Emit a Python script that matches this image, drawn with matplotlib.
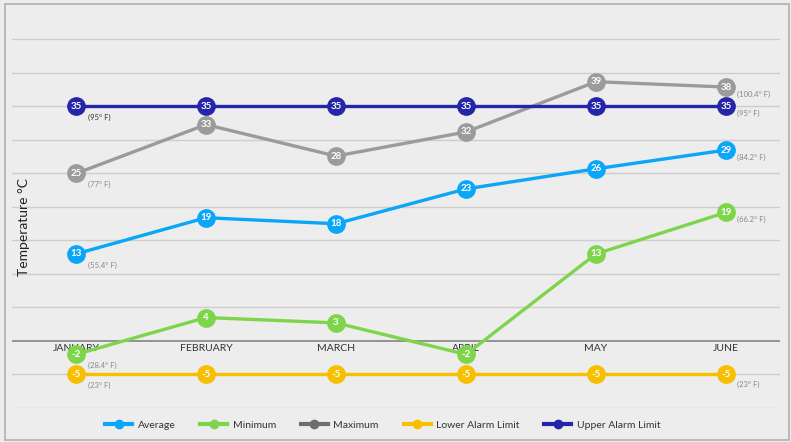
import numpy as np
import matplotlib.pyplot as plt
from matplotlib.lines import Line2D
from matplotlib.patches import Rectangle

plt.rcParams['font.family'] = ['Lato', 'DejaVu Sans']

# data (deg C)
months = ['JANUARY', 'FEBRUARY', 'MARCH', 'APRIL', 'MAY', 'JUNE']
# where the points sit on the chart
average = [13.0, 18.4, 17.5, 22.7, 25.7, 28.5]
minimum = [-2.0, 3.5, 2.7, -2.0, 13.0, 19.2]
maximum = [25.0, 32.3, 27.6, 31.2, 38.7, 37.9]
lower_alarm = [-5, -5, -5, -5, -5, -5]
upper_alarm = [35, 35, 35, 35, 35, 35]
# the numbers printed in the markers
average_lbl = [13, 19, 18, 23, 26, 29]
minimum_lbl = [-2, 4, 3, -2, 13, 19]
maximum_lbl = [25, 33, 28, 32, 39, 38]
lower_lbl = [-5, -5, -5, -5, -5, -5]
upper_lbl = [35, 35, 35, 35, 35, 35]

series = [
    ('Average', average, average_lbl, '#0aa6f7', '#0aa6f7'),
    ('Minimum', minimum, minimum_lbl, '#7ed54c', '#7ed54c'),
    ('Maximum', maximum, maximum_lbl, '#9b9b9b', '#6e6e6e'),
    ('Lower Alarm Limit', lower_alarm, lower_lbl, '#f6bf00', '#f6bf00'),
    ('Upper Alarm Limit', upper_alarm, upper_lbl, '#2525aa', '#2525aa'),
]

fig = plt.figure(figsize=(7.91, 4.42), dpi=100)
fig.patch.set_facecolor('#ededed')
fig.patches.append(Rectangle((0.006, 0.004), 0.991, 0.988, transform=fig.transFigure,
                             fill=False, edgecolor='#b0b0b0', linewidth=1.2))

ax = fig.add_axes([12 / 791, 34 / 442, 768 / 791, 400 / 442])
ax.set_facecolor('#ededed')
x = np.arange(len(months))
ax.set_xlim(-0.492, 5.415)
ax.set_ylim(-10, 49.7)

# grid
for g in range(-10, 50, 5):
    if g == 0:
        ax.axhline(0, color='#8c8c8c', lw=1.3, zorder=1)
    else:
        ax.axhline(g, color='#cdcdcd', lw=1.0, zorder=1)
for s in ax.spines.values():
    s.set_visible(False)
ax.set_xticks([])
ax.set_yticks([])

# month labels sit on the zero line
for xi, m in zip(x, months):
    ax.annotate(m, (xi, 0), xytext=(0, -2), textcoords='offset points',
                ha='center', va='top', fontsize=7.5, color='#333333')

ax.text(-0.40, 17, 'Temperature °C', rotation=90, ha='center', va='center',
        fontsize=10, color='#222222')

# lines, markers and values
for z, (name, vals, lbls, col, lcol) in enumerate(series):
    ax.plot(x, vals, color=col, lw=2.4, marker='o', markersize=13.5,
            markeredgewidth=0, zorder=3 + z)
    for xi, v, t in zip(x, vals, lbls):
        ax.text(xi, v, str(t), ha='center', va='center', fontsize=7,
                fontweight='bold', color='white', zorder=3.5 + z)


def fahr(c):
    return '(%g° F)' % round(c * 9 / 5 + 32, 1)


# fahrenheit notes at January and June
for name, vals, lbls, col, lcol in series:
    first_col = '#333333' if name == 'Upper Alarm Limit' else '#888888'
    ax.annotate(fahr(lbls[0]), (x[0], vals[0]), xytext=(9, -8),
                textcoords='offset points', ha='left', va='center',
                fontsize=5.5, color=first_col, zorder=10)
    dy = -7 if name == 'Lower Alarm Limit' else -5
    ax.annotate(fahr(lbls[-1]), (x[-1], vals[-1]), xytext=(8, dy),
                textcoords='offset points', ha='left', va='center',
                fontsize=5.5, color='#888888', zorder=10)

handles = [Line2D([0], [0], color=s[4], lw=3, marker='o', markersize=6)
           for s in series]
fig.legend(handles, [s[0] for s in series], loc='center', ncol=5,
           bbox_to_anchor=(0.484, 17 / 442), frameon=False, fontsize=7.5,
           handlelength=2.6, columnspacing=2.4, handletextpad=0.5,
           labelcolor='#333333')

fig.savefig('out.png', dpi=100, facecolor=fig.get_facecolor())
